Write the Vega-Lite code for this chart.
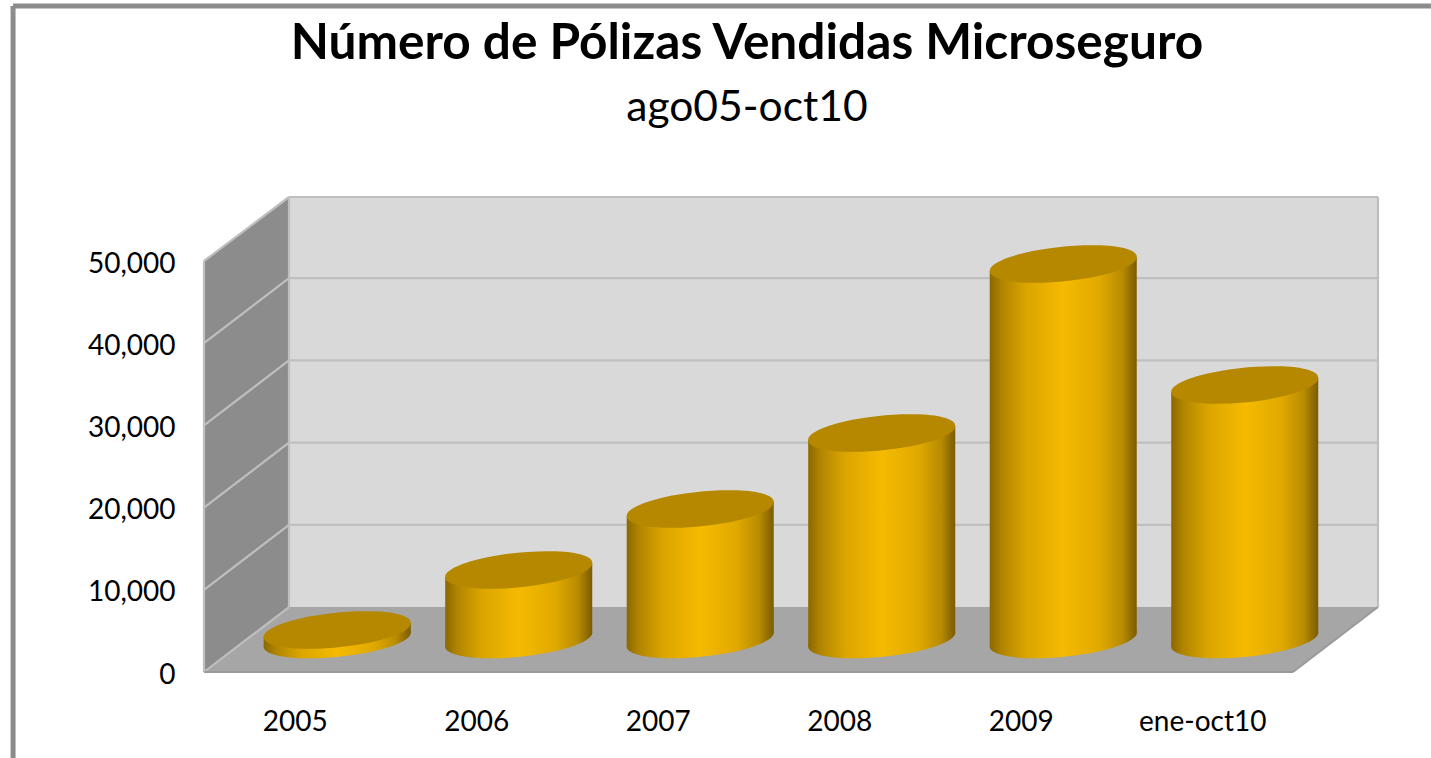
{
"$schema":"https://vega.github.io/schema/vega-lite/v6.json",
"width":1174,"height":475,"autosize":{"type":"none"},
"padding":{"left":204,"top":197,"right":53,"bottom":86},
"background":"#ffffff",
"view":{"stroke":null},
"title":{"text":"Número de Pólizas Vendidas Microseguro","subtitle":"ago05-oct10","anchor":"middle","frame":"group","dx":-44,"offset":-127,"font":"Lato","fontSize":49.6,"fontWeight":"bold","color":"#000000","subtitleFont":"Lato","subtitleFontSize":42.6,"subtitleColor":"#000000","subtitlePadding":17},
"datasets":{
"polizas":[
{"periodo":"2005","slot":0.5,"polizas":1156},
{"periodo":"2006","slot":1.5,"polizas":8455},
{"periodo":"2007","slot":2.5,"polizas":15876},
{"periodo":"2008","slot":3.5,"polizas":25122},
{"periodo":"2009","slot":4.5,"polizas":45681},
{"periodo":"ene-oct10","slot":5.5,"polizas":30961}],
"cuerpos":[
{"periodo":"2005","x":0.329,"cima":4258,"base":3102},{"periodo":"2005","x":1.139,"cima":5961,"base":4805},
{"periodo":"2006","x":1.329,"cima":11557,"base":3102},{"periodo":"2006","x":2.139,"cima":13260,"base":4805},
{"periodo":"2007","x":2.329,"cima":18978,"base":3102},{"periodo":"2007","x":3.139,"cima":20681,"base":4805},
{"periodo":"2008","x":3.329,"cima":28224,"base":3102},{"periodo":"2008","x":4.139,"cima":29927,"base":4805},
{"periodo":"2009","x":4.329,"cima":48783,"base":3102},{"periodo":"2009","x":5.139,"cima":50487,"base":4805},
{"periodo":"ene-oct10","x":5.329,"cima":34063,"base":3102},{"periodo":"ene-oct10","x":6.139,"cima":35766,"base":4805}],
"lateral":[{"x":0,"y":0,"y2":50000},{"x":0.4683,"y":7907,"y2":57786}],
"piso":[{"y":0,"x":0,"x2":6},{"y":7907,"x":0.4683,"x2":6.4683}],
"fondo":[{"x":0.4683,"x2":6.4683,"y":7907,"y2":57786}],
"rejilla":[
{"x":0.4683,"x2":6.4683,"y":17907,"y2":17907},{"x":0.4683,"x2":6.4683,"y":27907,"y2":27907},{"x":0.4683,"x2":6.4683,"y":37907,"y2":37907},{"x":0.4683,"x2":6.4683,"y":47907,"y2":47907},{"x":0.4683,"x2":6.4683,"y":57786,"y2":57786},
{"x":6.4683,"x2":6.4683,"y":7907,"y2":57786},
{"x":0.4683,"x2":0.4683,"y":7907,"y2":57786},
{"x":0,"x2":0,"y":0,"y2":50000},
{"x":0,"x2":0.4683,"y":0,"y2":7907},{"x":0,"x2":0.4683,"y":10000,"y2":17907},{"x":0,"x2":0.4683,"y":20000,"y2":27907},{"x":0,"x2":0.4683,"y":30000,"y2":37907},{"x":0,"x2":0.4683,"y":40000,"y2":47907},{"x":0,"x2":0.4683,"y":50000,"y2":57786}],
"bordes":[{"x":6,"x2":6.4683,"y":0,"y2":7907},{"x":0,"x2":6,"y":0,"y2":0}],
"marco":[{"x":-1.052,"x2":6.76,"y":81022,"y2":81022},{"x":-1.052,"x2":-1.052,"y":81022,"y2":-10462}]
},
"layer":[
{"data":{"name":"marco"},"mark":{"type":"rule","color":"#8C8C8C","strokeWidth":5},
 "encoding":{"x":{"field":"x","type":"quantitative","scale":{"domain":[0,6.4683],"nice":false,"zero":false},"axis":{"values":[0.5,1.5,2.5,3.5,4.5,5.5],"title":null,"domain":false,"ticks":false,"grid":false,"labelFont":"Lato","labelFontSize":28,"labelColor":"#000000","labelPadding":36,"labelFlush":false,"labelOverlap":false,"labelExpr":"['2005','2006','2007','2008','2009','ene-oct10'][floor(datum.value)]"}},"x2":{"field":"x2"},"y":{"field":"y","type":"quantitative","scale":{"domain":[0,57786],"nice":false,"zero":false},"axis":{"values":[0,10000,20000,30000,40000,50000],"format":",.0f","title":null,"domain":false,"ticks":false,"grid":false,"labelFont":"Lato","labelFontSize":28,"labelColor":"#000000","labelPadding":29,"labelOffset":3,"labelFlush":false,"labelOverlap":false}},"y2":{"field":"y2"}}},
{"data":{"name":"fondo"},"mark":{"type":"rect","color":"#D9D9D9"},
 "encoding":{"x":{"field":"x","type":"quantitative"},"x2":{"field":"x2"},"y":{"field":"y","type":"quantitative"},"y2":{"field":"y2"}}},
{"data":{"name":"lateral"},"mark":{"type":"area","color":"#8C8C8C","orient":"vertical"},
 "encoding":{"x":{"field":"x","type":"quantitative"},"y":{"field":"y","type":"quantitative","stack":null},"y2":{"field":"y2"}}},
{"data":{"name":"piso"},"mark":{"type":"area","color":"#A6A6A6","orient":"horizontal"},
 "encoding":{"y":{"field":"y","type":"quantitative"},"x":{"field":"x","type":"quantitative","stack":null},"x2":{"field":"x2"}}},
{"data":{"name":"rejilla"},"mark":{"type":"rule","color":"#BFBFBF","strokeWidth":2.2},
 "encoding":{"x":{"field":"x","type":"quantitative"},"x2":{"field":"x2"},"y":{"field":"y","type":"quantitative"},"y2":{"field":"y2"}}},
{"data":{"name":"bordes"},"mark":{"type":"rule","color":"#9A9A9A","strokeWidth":2},
 "encoding":{"x":{"field":"x","type":"quantitative"},"x2":{"field":"x2"},"y":{"field":"y","type":"quantitative"},"y2":{"field":"y2"}}},
{"data":{"name":"polizas"},"mark":{"type":"point","filled":true,"opacity":1,"size":21609,"xOffset":42.5,"yOffset":-32.5,"shape":"M -1 0.095 A 1.005 0.232 -5.75 1 0 1 -0.095 A 1.005 0.232 -5.75 1 0 -1 0.095 Z","fill":{"x1":0,"y1":0,"x2":1,"y2":0,"gradient":"linear","stops":[{"offset":0,"color":"#8A6800"},{"offset":0.08,"color":"#B08400"},{"offset":0.25,"color":"#DBA500"},{"offset":0.5,"color":"#F5BA00"},{"offset":0.75,"color":"#E0A900"},{"offset":0.9,"color":"#B98C00"},{"offset":1,"color":"#7A5B00"}]}},
 "encoding":{"x":{"field":"slot","type":"quantitative"},"y":{"datum":0,"type":"quantitative"}}},
{"data":{"name":"cuerpos"},"mark":{"type":"area","orient":"vertical","fill":{"x1":0,"y1":0,"x2":1,"y2":0,"gradient":"linear","stops":[{"offset":0,"color":"#8A6800"},{"offset":0.08,"color":"#B08400"},{"offset":0.25,"color":"#DBA500"},{"offset":0.5,"color":"#F5BA00"},{"offset":0.75,"color":"#E0A900"},{"offset":0.9,"color":"#B98C00"},{"offset":1,"color":"#7A5B00"}]}},
 "encoding":{"detail":{"field":"periodo"},"x":{"field":"x","type":"quantitative"},"y":{"field":"cima","type":"quantitative","stack":null},"y2":{"field":"base"}}},
{"data":{"name":"polizas"},"mark":{"type":"point","filled":true,"opacity":1,"size":21609,"xOffset":42.5,"yOffset":-32.5,"fill":"#B58800","shape":"M -1 0.095 A 1.005 0.232 -5.75 1 0 1 -0.095 A 1.005 0.232 -5.75 1 0 -1 0.095 Z"},
 "encoding":{"x":{"field":"slot","type":"quantitative"},"y":{"field":"polizas","type":"quantitative"}}}
]
}
